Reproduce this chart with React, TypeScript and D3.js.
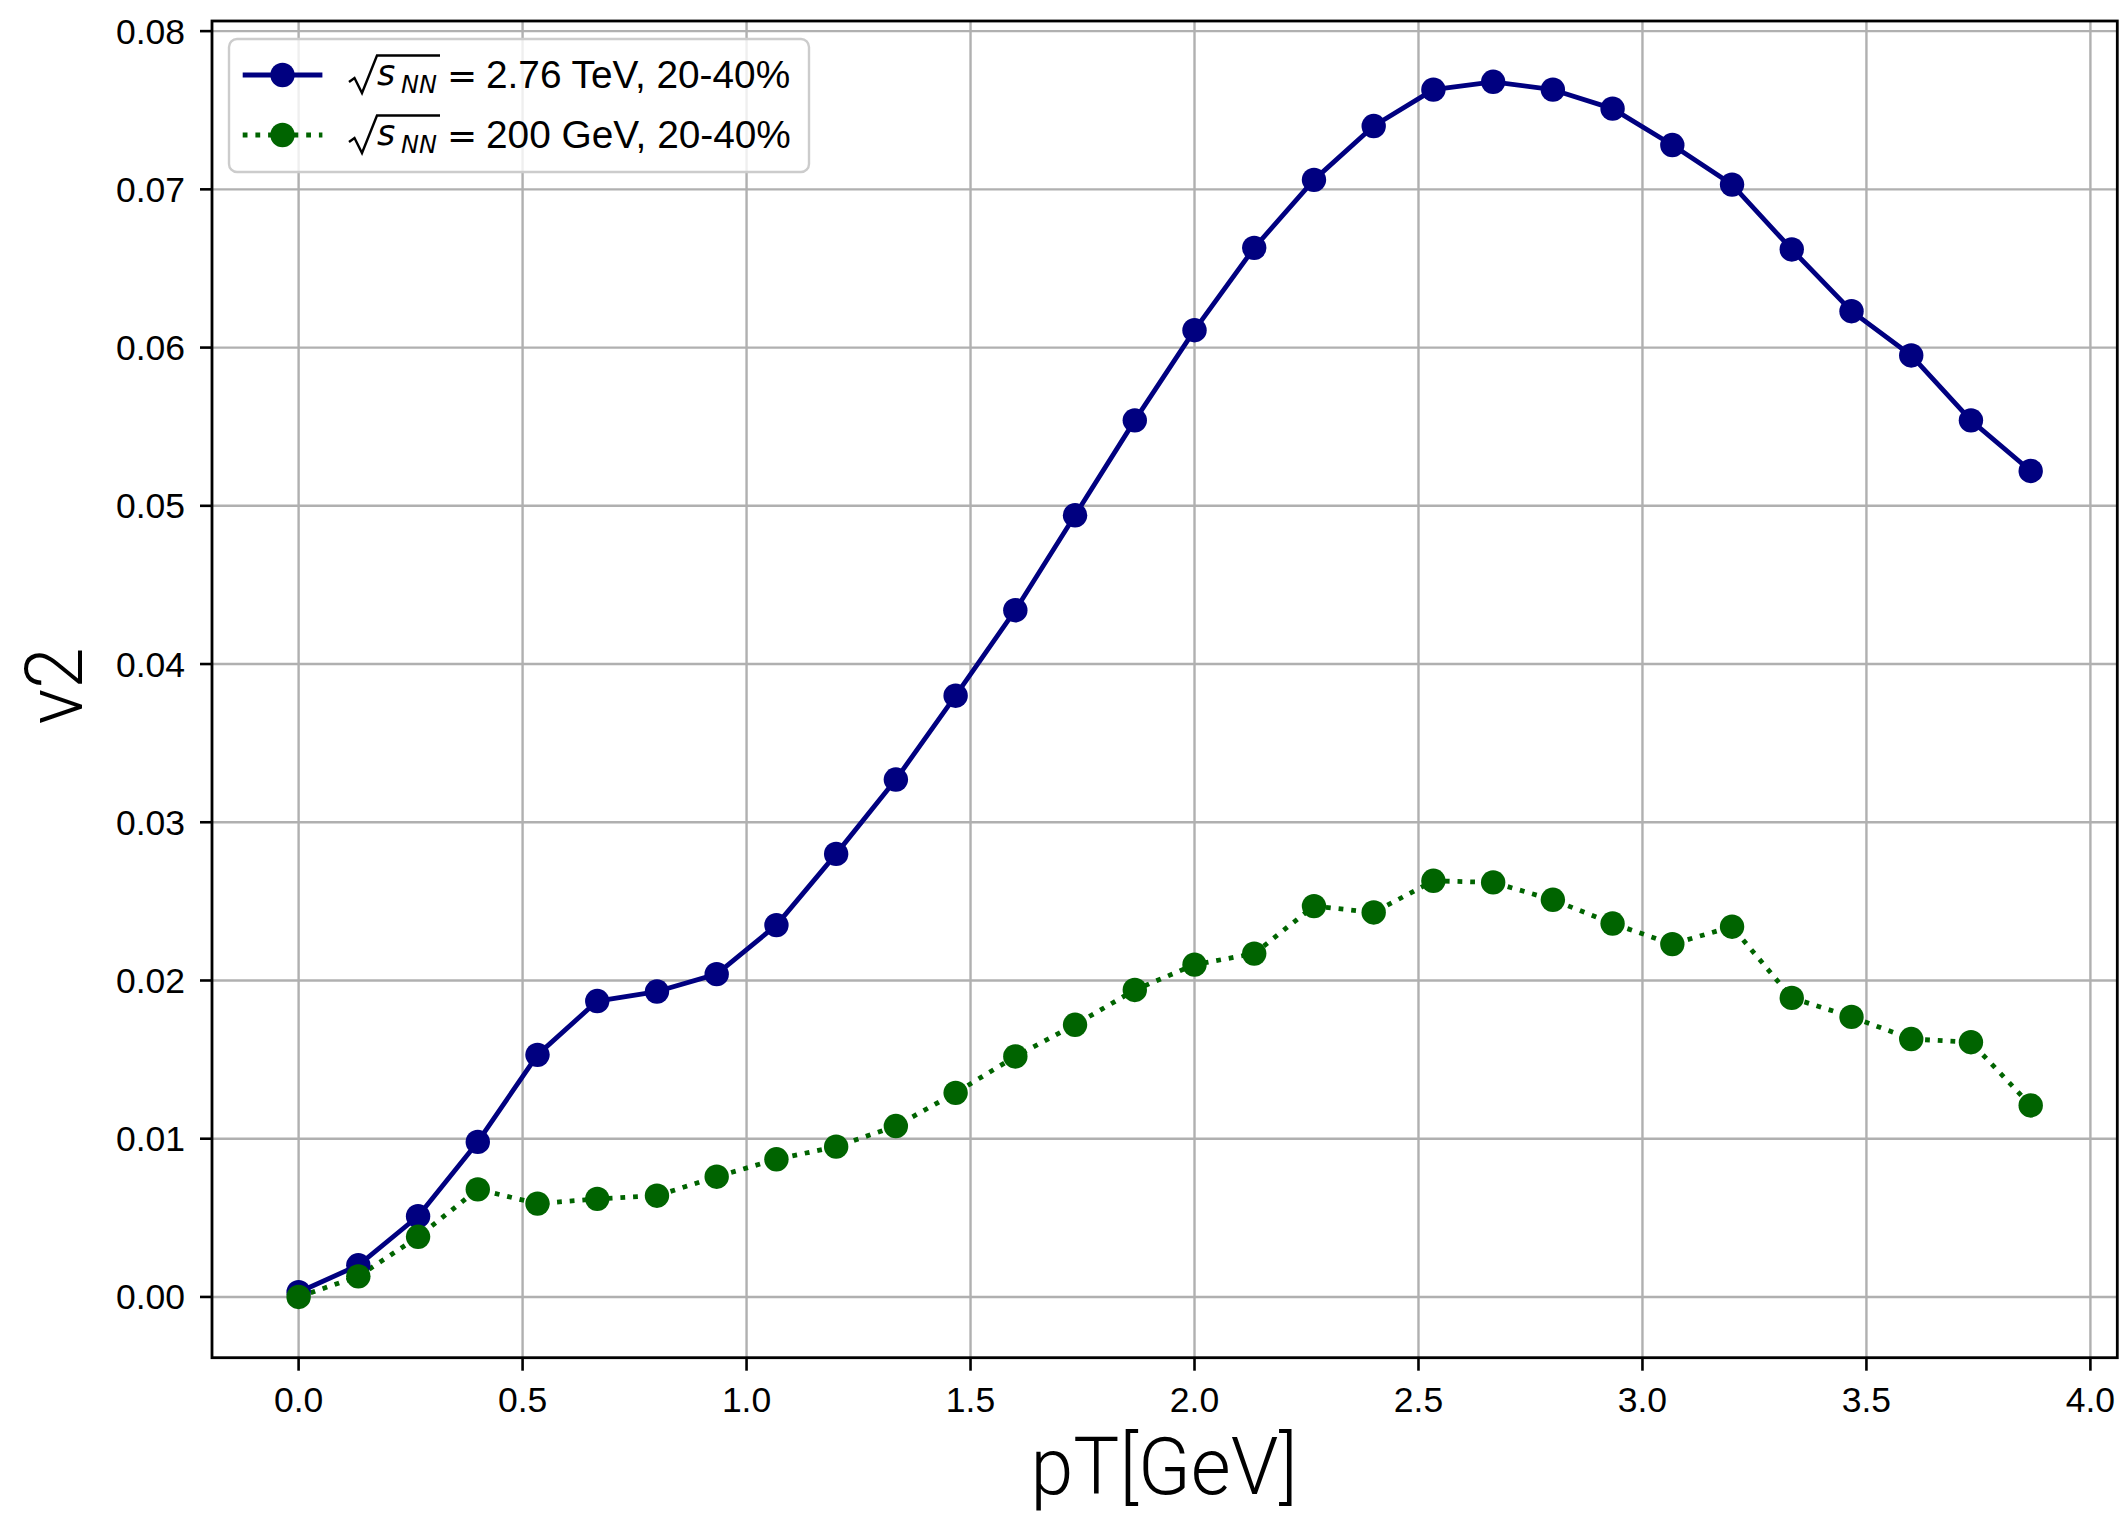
import React from "react";
import * as d3 from "d3";

const pT = [0, 0.1333, 0.2667, 0.4, 0.5333, 0.6667, 0.8, 0.9333, 1.0667, 1.2, 1.3333, 1.4667, 1.6, 1.7333, 1.8667, 2.0, 2.1333, 2.2667, 2.4, 2.5333, 2.6667, 2.8, 2.9333, 3.0667, 3.2, 3.3333, 3.4667, 3.6, 3.7333, 3.8667];
const v2LHC = [0.0003, 0.002, 0.0051, 0.0098, 0.0153, 0.0187, 0.0193, 0.0204, 0.0235, 0.028, 0.0327, 0.038, 0.0434, 0.0494, 0.0554, 0.0611, 0.0663, 0.0706, 0.074, 0.0763, 0.0768, 0.0763, 0.0751, 0.0728, 0.0703, 0.0662, 0.0623, 0.0595, 0.0554, 0.0522];
const v2RHIC = [0.0, 0.0013, 0.0038, 0.0068, 0.0059, 0.0062, 0.0064, 0.0076, 0.0087, 0.0095, 0.0108, 0.0129, 0.0152, 0.0172, 0.0194, 0.021, 0.0217, 0.0247, 0.0243, 0.0263, 0.0262, 0.0251, 0.0236, 0.0223, 0.0234, 0.0189, 0.0177, 0.0163, 0.0161, 0.0121];
const xTicks = [0, 0.5, 1.0, 1.5, 2.0, 2.5, 3.0, 3.5, 4.0];
const yTicks = [0, 0.01, 0.02, 0.03, 0.04, 0.05, 0.06, 0.07, 0.08];
const seriesLabels = ["2.76 TeV, 20-40%", "200 GeV, 20-40%"];
const seriesColors = ["#000080", "#006400"];

const W = 2126, H = 1513;
const L = 212, R = 2117.3, T = 21, B = 1357.7;

export default function App() {
  const xExt = d3.extent(pT) as [number, number];
  const allY = [...v2LHC, ...v2RHIC];
  const yExt = d3.extent(allY) as [number, number];
  const xPad = (xExt[1] - xExt[0]) * 0.05;
  const yPad = (yExt[1] - yExt[0]) * 0.05;
  const x = d3.scaleLinear().domain([xExt[0] - xPad, xExt[1] + xPad]).range([L, R]);
  const y = d3.scaleLinear().domain([yExt[0] - yPad, yExt[1] + yPad]).range([B, T]);
  const line = d3.line<number>().x((_, i) => x(pT[i])).y((d) => y(d));
  const series = [v2LHC, v2RHIC];
  const fontTick = "'Liberation Sans', Arial, Helvetica, sans-serif";
  const fontMath = "'DejaVu Sans', sans-serif";
  const lw = 4.8;
  const r = 12.2;

  return (
    <div style={{ position: "absolute", left: 0, top: 0 }}>
      <svg width={W} height={H} style={{ display: "block", background: "#fff" }}>
        <rect x={0} y={0} width={W} height={H} fill="#fff" />
        {/* grid */}
        <g stroke="#b0b0b0" strokeWidth={2.4}>
          {xTicks.map((t) => (
            <line key={"gx" + t} x1={x(t)} x2={x(t)} y1={T} y2={B} />
          ))}
          {yTicks.map((t) => (
            <line key={"gy" + t} x1={L} x2={R} y1={y(t)} y2={y(t)} />
          ))}
        </g>
        {/* series */}
        <path d={line(v2LHC) || ""} fill="none" stroke={seriesColors[0]} strokeWidth={lw} strokeLinejoin="round" />
        <path d={line(v2RHIC) || ""} fill="none" stroke={seriesColors[1]} strokeWidth={lw} strokeDasharray="4.8 7.9" />
        {series.map((s, si) =>
          s.map((v, i) => (
            <circle key={si + "-" + i} cx={x(pT[i])} cy={y(v)} r={r} fill={seriesColors[si]} />
          ))
        )}
        {/* spines */}
        <rect x={L} y={T} width={R - L} height={B - T} fill="none" stroke="#000" strokeWidth={2.8} />
        {/* ticks */}
        <g stroke="#000" strokeWidth={2.6}>
          {xTicks.map((t) => (
            <line key={"tx" + t} x1={x(t)} x2={x(t)} y1={B} y2={B + 13} />
          ))}
          {yTicks.map((t) => (
            <line key={"ty" + t} x1={L - 12} x2={L} y1={y(t)} y2={y(t)} />
          ))}
        </g>
        <g fontFamily={fontTick} fontSize={35.5} fill="#000">
          {xTicks.map((t) => (
            <text key={"lx" + t} x={x(t)} y={1411.5} textAnchor="middle">
              {d3.format(".1f")(t)}
            </text>
          ))}
          {yTicks.map((t) => (
            <text key={"ly" + t} x={185} y={y(t) + 12.5} textAnchor="end">
              {d3.format(".2f")(t)}
            </text>
          ))}
        </g>
        {/* axis labels */}
        <text x={1164} y={1494} textAnchor="middle" fontFamily="Roboto, 'Liberation Sans', sans-serif" fontWeight={300} fontSize={80} textLength={267} lengthAdjust="spacingAndGlyphs">
          pT[GeV]
        </text>
        <text transform="translate(81.5,686) rotate(-90)" textAnchor="middle" fontFamily="Roboto, 'Liberation Sans', sans-serif" fontWeight={300} fontSize={80} textLength={77} lengthAdjust="spacingAndGlyphs">
          v2
        </text>
        {/* legend */}
        <rect x={229} y={39} width={580} height={133} rx={8} ry={8} fill="#fff" fillOpacity={0.8} stroke="#cccccc" strokeWidth={2.4} />
        {seriesLabels.map((lab, i) => {
          const cy = 75 + i * 60;
          return (
            <g key={"leg" + i}>
              <line x1={242.7} x2={322.4} y1={cy} y2={cy} stroke={seriesColors[i]} strokeWidth={lw} strokeDasharray={i === 1 ? "4.8 7.9" : undefined} />
              <circle cx={282.5} cy={cy} r={r} fill={seriesColors[i]} />
              <path d={`M349,${cy + 7} L354.5,${cy + 3} L362,${cy + 18} L377,${cy - 19.5} L440,${cy - 19.5}`} fill="none" stroke="#000" strokeWidth={2.4} strokeLinejoin="miter" />
              <text x={377} y={cy + 10} fontFamily={fontMath} fontStyle="italic" fontSize={35}>s</text>
              <text x={401} y={cy + 18} fontFamily={fontMath} fontStyle="italic" fontSize={24}>NN</text>
              <text x={447} y={cy + 13} fontFamily={fontMath} fontSize={36}>=</text>
              <text x={486} y={cy + 13} fontFamily={fontTick} fontSize={38.8}>{lab}</text>
            </g>
          );
        })}
      </svg>
    </div>
  );
}
